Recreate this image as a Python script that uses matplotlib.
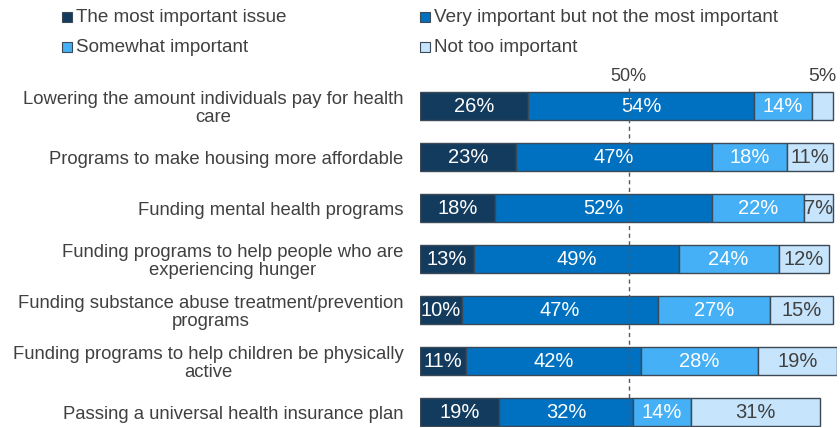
import matplotlib.pyplot as plt
import numpy as np
from matplotlib.patches import Rectangle

plt.rcParams["font.family"] = ["Liberation Sans", "DejaVu Sans"]

categories = [
    "Lowering the amount individuals pay for health\ncare",
    "Programs to make housing more affordable",
    "Funding mental health programs",
    "Funding programs to help people who are\nexperiencing hunger",
    "Funding substance abuse treatment/prevention\nprograms",
    "Funding programs to help children be physically\nactive",
    "Passing a universal health insurance plan",
]
series_names = [
    "The most important issue",
    "Very important but not the most important",
    "Somewhat important",
    "Not too important",
]
most_important = [26, 23, 18, 13, 10, 11, 19]
very_important = [54, 47, 52, 49, 47, 42, 32]
somewhat_important = [14, 18, 22, 24, 27, 28, 14]
not_too_important = [5, 11, 7, 12, 15, 19, 31]

colors = ["#133B5E", "#0070C0", "#45B0F5", "#C6E4FB"]
text_colors = ["white", "white", "white", "#404040"]
edge = "#3C4A58"
dark_text = "#404040"

fig = plt.figure(figsize=(8.4, 4.28), dpi=100)
ax = fig.add_axes([420 / 840, 0.0016, 417 / 840, 0.846])

values = [most_important, very_important, somewhat_important, not_too_important]
y = np.arange(len(categories))
left = np.zeros(len(categories))
for k, vals in enumerate(values):
    vals = np.array(vals, dtype=float)
    ax.barh(y, vals, left=left, height=0.55, color=colors[k], edgecolor=edge, lw=1)
    for i, v in enumerate(vals):
        cx = left[i] + v / 2
        if v < 6:
            # too narrow: label sits above the segment
            ax.text(cx, i - 0.42, f"{int(v)}%", ha="center", va="bottom",
                    fontsize=14, color=dark_text)
        else:
            ax.text(cx, i, f"{int(v)}%", ha="center", va="center",
                    fontsize=14.5, color=text_colors[k])
    left += vals

ax.plot([50, 50], [-0.35, 6.3], ls=(0, (3, 2.5)), color="#505A66", lw=1, zorder=5)
ax.text(50, -0.42, "50%", ha="center", va="bottom", fontsize=13, color=dark_text)

ax.set_xlim(0, 100)
ax.set_ylim(6.3, -0.8)
ax.set_xticks([])
ax.set_yticks(y)
ax.set_yticklabels(categories, fontsize=13.3, color=dark_text, multialignment="center",
                   linespacing=1.1)
ax.tick_params(axis="y", length=0, pad=12)
for s in ax.spines.values():
    s.set_visible(False)

# legend, two columns at the top
leg_x = [62, 420]
leg_y = [17, 47]
for k, name in enumerate(series_names):
    px = leg_x[k % 2]
    py = leg_y[k // 2]
    fig.add_artist(Rectangle((px / 840, 1 - (py + 5) / 428), 10 / 840, 10 / 428,
                             transform=fig.transFigure, facecolor=colors[k],
                             edgecolor=edge, lw=0.8))
    fig.text((px + 14) / 840, 1 - py / 428, name, ha="left", va="center",
             fontsize=13.6, color=dark_text)

fig.savefig("out.png", dpi=100, facecolor="white")
plt.close()
